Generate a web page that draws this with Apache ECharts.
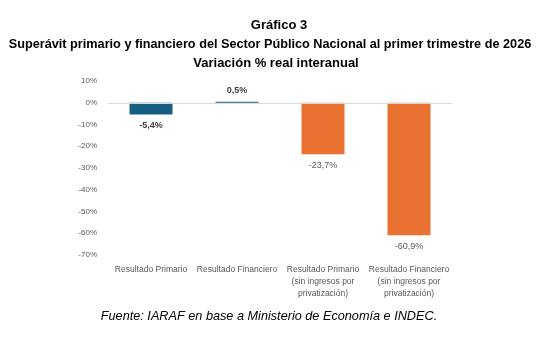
<!DOCTYPE html>
<html>
<head>
<meta charset="utf-8">
<script src="https://cdn.jsdelivr.net/npm/echarts@6/dist/echarts.min.js"></script>
<style>
  html, body { margin: 0; padding: 0; background: #fff; }
  #chart { width: 556px; height: 342px; }
</style>
</head>
<body>
<div id="chart"></div>
<script>
// Categories and real year-on-year variation (%)
const categories = [
  'Resultado Primario',
  'Resultado Financiero',
  'Resultado Primario\n(sin ingresos por\nprivatización)',
  'Resultado Financiero\n(sin ingresos por\nprivatización)'
];
const values = [-5.4, 0.5, -23.7, -60.9];
const barColors = ['#156082', '#156082', '#E97132', '#E97132'];
const boldLabel = [true, true, false, false];
const yTicks = { min: -70, max: 10, interval: 10 };

const fmt = v => v.toFixed(1).replace('.', ',') + '%';

const titleFont = { fontFamily: 'Liberation Sans', fontWeight: 'bold', fontSize: 13, color: '#000' };

const chart = echarts.init(document.getElementById('chart'), null, { renderer: 'canvas' });
chart.setOption({
  animation: false,
  title: [
    { text: 'Gráfico 3', left: 274, textAlign: 'center', top: 14, textStyle: titleFont },
    { text: 'Superávit primario y financiero del Sector Público Nacional al primer trimestre de 2026',
      left: 265, textAlign: 'center', top: 33, textStyle: Object.assign({}, titleFont, { fontSize: 12.7 }) },
    { text: 'Variación % real interanual', left: 271, textAlign: 'center', top: 52, textStyle: titleFont },
    { text: 'Fuente: IARAF en base a Ministerio de Economía e INDEC.', left: 264, textAlign: 'center', top: 305,
      textStyle: { fontFamily: 'Liberation Sans', fontStyle: 'italic', fontWeight: 'normal', fontSize: 12.7, color: '#000' } }
  ],
  grid: { left: 108, right: 104, top: 81, bottom: 87 },
  xAxis: {
    type: 'category',
    data: categories,
    position: 'bottom',
    axisLine: { show: false },
    axisTick: { show: false },
    axisLabel: {
      interval: 0, margin: 9, lineHeight: 12,
      fontFamily: 'Liberation Sans', fontSize: 8.5, color: '#595959'
    }
  },
  yAxis: {
    type: 'value',
    min: yTicks.min, max: yTicks.max, interval: yTicks.interval,
    axisLine: { show: false },
    axisTick: { show: false },
    splitLine: { show: false },
    axisLabel: {
      margin: 11,
      formatter: v => v + '%',
      fontFamily: 'Liberation Sans', fontSize: 8, color: '#595959'
    }
  },
  series: [{
    type: 'bar',
    barWidth: '50%',
    data: values.map((v, i) => ({
      value: v,
      itemStyle: { color: barColors[i] },
      label: {
        show: true,
        position: v >= 0 ? 'top' : 'bottom',
        distance: 7,
        formatter: p => fmt(p.value),
        fontFamily: 'Liberation Sans',
        fontSize: 9,
        fontWeight: boldLabel[i] ? 'bold' : 'normal',
        color: boldLabel[i] ? '#404040' : '#595959'
      }
    })),
    markLine: {
      silent: true, symbol: 'none', label: { show: false },
      lineStyle: { color: '#d9d9d9', width: 1, type: 'solid' },
      data: [{ yAxis: 0 }]
    }
  }]
});
</script>
</body>
</html>
